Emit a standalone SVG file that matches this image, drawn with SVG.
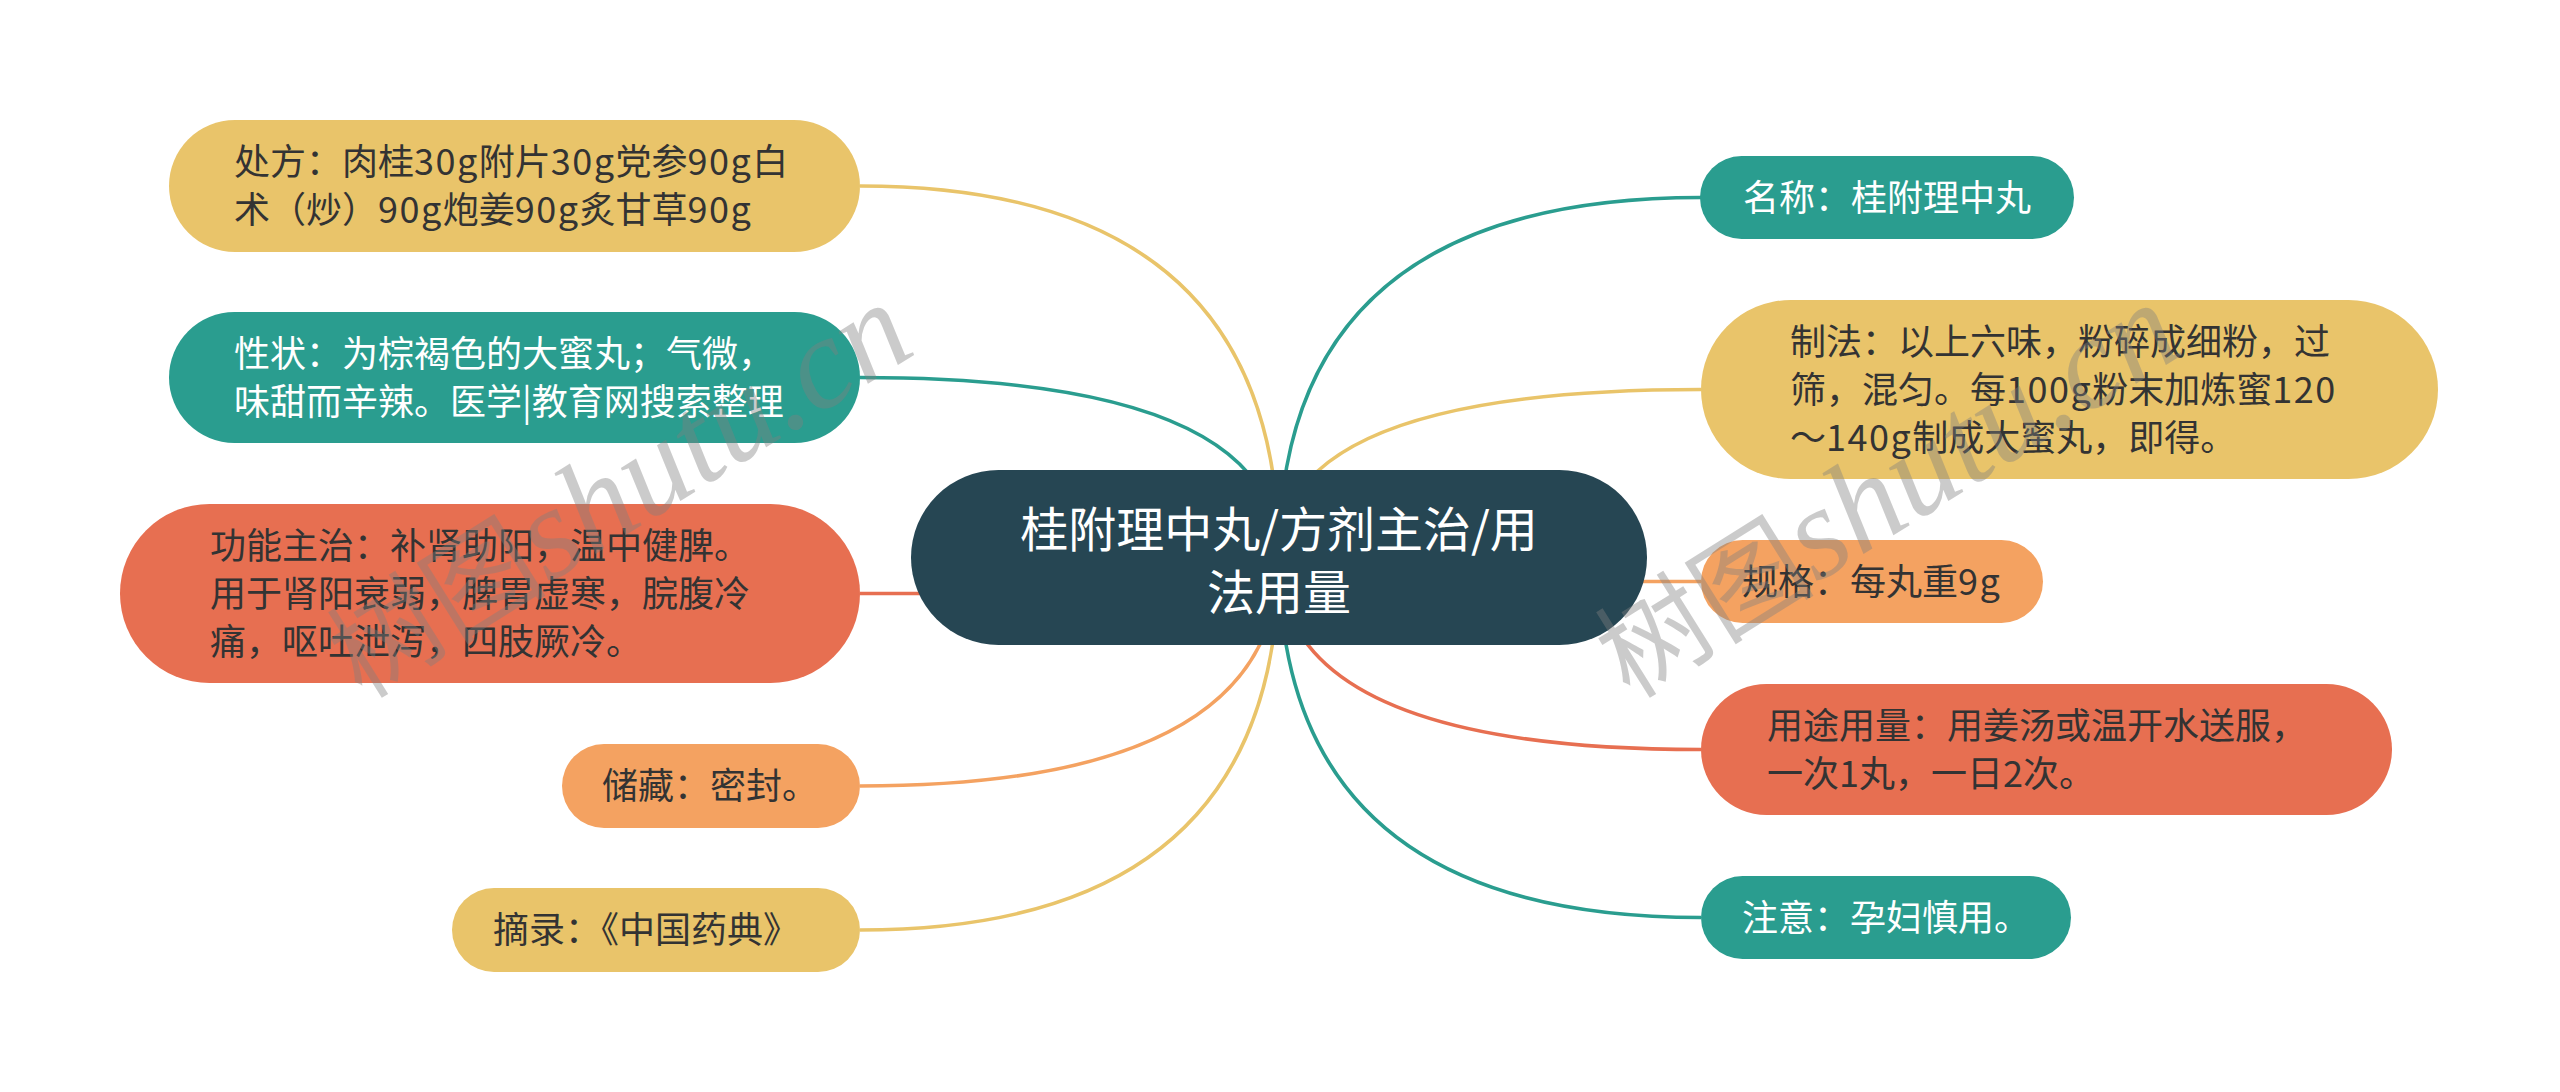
<svg xmlns="http://www.w3.org/2000/svg" width="2560" height="1092" viewBox="0 0 2560 1092">
<style>
.t{font-family:"Noto Sans CJK SC","Noto Sans",sans-serif;font-size:36px;}
.dk{fill:#333333;}
.wt{fill:#ffffff;}
.n{letter-spacing:1.5px;}
.c{fill:none;stroke-width:3.5;}
.y{fill:#E9C46A;}
.g{fill:#2A9D8F;}
.r{fill:#E76F51;}
.o{fill:#F4A261;}
.wm{font-family:"Liberation Serif","Noto Sans CJK SC",serif;fill:#808080;opacity:0.4;}
</style>
<rect width="2560" height="1092" fill="#ffffff"/>
<g id="connectors">
<path class="c" stroke="#E9C46A" d="M1279 557.5 Q1279 186 860 186"/>
<path class="c" stroke="#2A9D8F" d="M1279 557.5 Q1279 377.5 860 377.5"/>
<path class="c" stroke="#E76F51" d="M1279 557.5 Q1279 593.5 860 593.5"/>
<path class="c" stroke="#F4A261" d="M1279 557.5 Q1279 786 860 786"/>
<path class="c" stroke="#E9C46A" d="M1279 557.5 Q1279 930 860 930"/>
<path class="c" stroke="#2A9D8F" d="M1279 557.5 Q1279 197.5 1701 197.5"/>
<path class="c" stroke="#E9C46A" d="M1279 557.5 Q1279 389.5 1701 389.5"/>
<path class="c" stroke="#F4A261" d="M1279 557.5 Q1279 581.5 1701 581.5"/>
<path class="c" stroke="#E76F51" d="M1279 557.5 Q1279 749.5 1701 749.5"/>
<path class="c" stroke="#2A9D8F" d="M1279 557.5 Q1279 917.5 1701 917.5"/>
</g>
<g id="root">
<rect x="911" y="470" width="736" height="175" rx="87.5" fill="#264653"/>
<text class="t wt" style="font-size:48px" text-anchor="middle"><tspan x="1279" y="547">桂附理中丸/方剂主治/用</tspan><tspan x="1279" y="610">法用量</tspan></text>
</g>
<g id="n-chufang">
<rect class="y" x="169" y="120" width="691" height="132" rx="66"/>
<text class="t dk"><tspan x="234" y="175">处方：肉桂<tspan class="n">30g</tspan>附片<tspan class="n">30g</tspan>党参<tspan class="n">90g</tspan>白</tspan><tspan x="234" y="223">术（炒）<tspan class="n">90g</tspan>炮姜<tspan class="n">90g</tspan>炙甘草<tspan class="n">90g</tspan></tspan></text>
</g>
<g id="n-xingzhuang">
<rect class="g" x="169" y="312" width="691" height="131" rx="65.5"/>
<text class="t wt"><tspan x="234" y="366.5">性状：为棕褐色的大蜜丸；气微，</tspan><tspan x="234" y="414.5">味甜而辛辣。医学|教育网搜索整理</tspan></text>
</g>
<g id="n-gongneng">
<rect class="r" x="120" y="504" width="740" height="179" rx="89.5"/>
<text class="t dk"><tspan x="210" y="558.5">功能主治：补肾助阳，温中健脾。</tspan><tspan x="210" y="606.5">用于肾阳衰弱，脾胃虚寒，脘腹冷</tspan><tspan x="210" y="654.5">痛，呕吐泄泻，四肢厥冷。</tspan></text>
</g>
<g id="n-chucang">
<rect class="o" x="562" y="744" width="298" height="84" rx="42"/>
<text class="t dk" x="602" y="799">储藏：密封。</text>
</g>
<g id="n-zhailu">
<rect class="y" x="452" y="888" width="408" height="84" rx="42"/>
<text class="t dk" x="493" y="943">摘录：《中国药典》</text>
</g>
<g id="n-mingcheng">
<rect class="g" x="1700" y="156" width="374" height="83" rx="41.5"/>
<text class="t wt" x="1743" y="210.5">名称：桂附理中丸</text>
</g>
<g id="n-zhifa">
<rect class="y" x="1701" y="300" width="737" height="179" rx="89.5"/>
<text class="t dk"><tspan x="1790" y="354.5">制法：以上六味，粉碎成细粉，过</tspan><tspan x="1790" y="402.5">筛，混匀。每<tspan class="n">100g</tspan>粉末加炼蜜<tspan class="n">120</tspan></tspan><tspan x="1790" y="450.5">～<tspan class="n">140g</tspan>制成大蜜丸，即得。</tspan></text>
</g>
<g id="n-guige">
<rect class="o" x="1701" y="540" width="342" height="83" rx="41.5"/>
<text class="t dk" x="1742" y="594.5">规格：每丸重<tspan class="n">9g</tspan></text>
</g>
<g id="n-yongtu">
<rect class="r" x="1701" y="684" width="691" height="131" rx="65.5"/>
<text class="t dk"><tspan x="1767" y="738.5">用途用量：用姜汤或温开水送服，</tspan><tspan x="1767" y="786.5">一次1丸，一日2次。</tspan></text>
</g>
<g id="n-zhuyi">
<rect class="g" x="1701" y="876" width="370" height="83" rx="41.5"/>
<text class="t wt" x="1742" y="930.5">注意：孕妇慎用。</text>
</g>
<g id="watermarks">
<text class="wm" transform="translate(362 700) rotate(-32)"><tspan style="font-size:110px">树图</tspan><tspan style="font-size:130px;font-style:italic">shutu.cn</tspan></text>
<text class="wm" transform="translate(1630 700) rotate(-32)"><tspan style="font-size:110px">树图</tspan><tspan style="font-size:130px;font-style:italic">shutu.cn</tspan></text>
</g>
</svg>
